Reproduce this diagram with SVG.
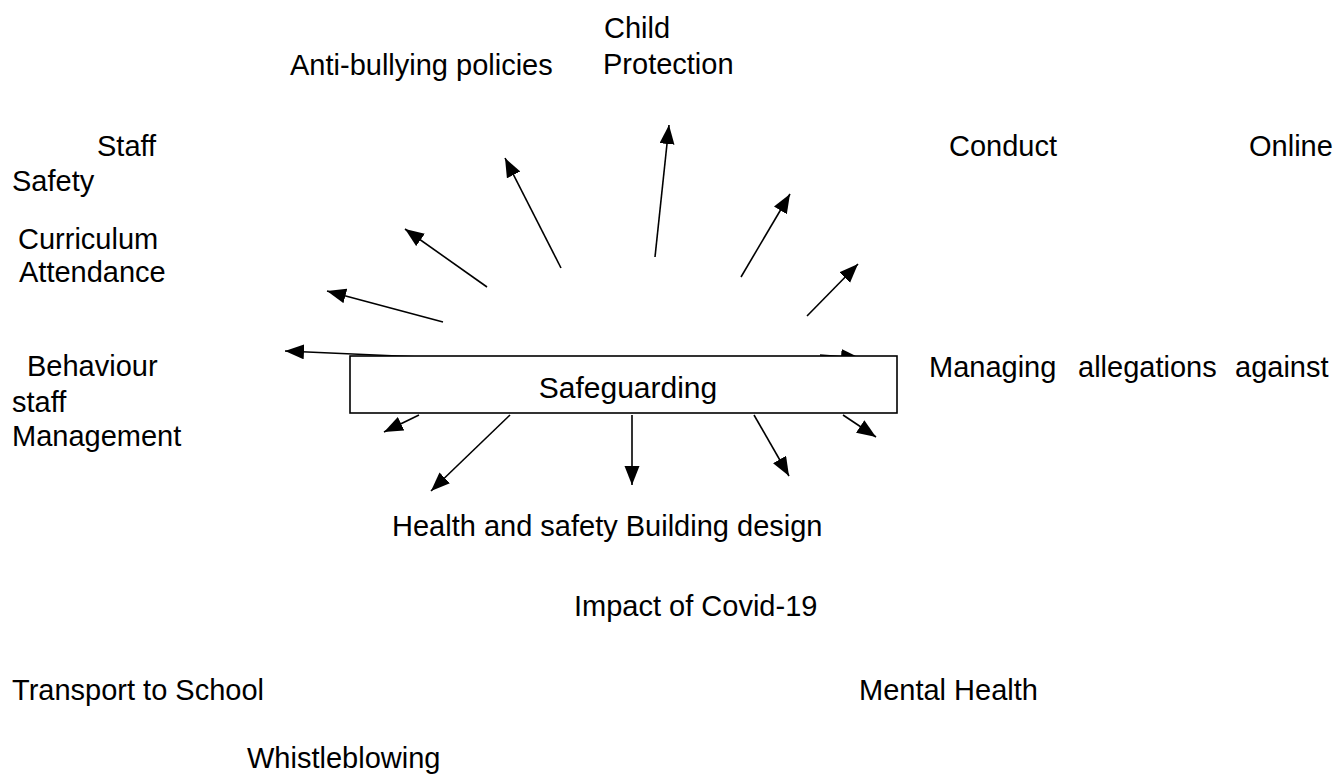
<svg xmlns="http://www.w3.org/2000/svg" width="1339" height="774" viewBox="0 0 1339 774">
<style>
text{font-family:"Liberation Sans",Arial,sans-serif;font-size:29px;fill:#000}
.c{stroke:#000;stroke-width:1.6;fill:none;marker-end:url(#ah)}
.box{fill:#fff;stroke:#000;stroke-width:1.6}
</style>
<defs>
<marker id="ah" markerUnits="userSpaceOnUse" markerWidth="20" markerHeight="16" refX="19" refY="7.5" orient="auto">
<path d="M0,0 L19,7.5 L0,15 z" fill="#000"/>
</marker>
</defs>
<rect width="1339" height="774" fill="#fff"/>
<g id="connectors">
<line class="c" x1="420" y1="357" x2="285" y2="351"/>
<line class="c" x1="443" y1="322" x2="327" y2="291"/>
<line class="c" x1="487" y1="287" x2="405" y2="229"/>
<line class="c" x1="561" y1="268" x2="505" y2="158"/>
<line class="c" x1="655" y1="257" x2="669" y2="125"/>
<line class="c" x1="741" y1="277" x2="790" y2="194"/>
<line class="c" x1="807" y1="316" x2="858" y2="264"/>
<line class="c" x1="820" y1="355" x2="860" y2="358"/>
<line class="c" x1="419" y1="415" x2="384" y2="432"/>
<line class="c" x1="510" y1="415" x2="431" y2="491"/>
<line class="c" x1="632" y1="415" x2="632" y2="485"/>
<line class="c" x1="754" y1="415" x2="789" y2="476"/>
<line class="c" x1="843" y1="415" x2="876" y2="437"/>
</g>
<g id="safeguarding">
<rect class="box" x="350" y="356" width="547" height="57"/>
<text x="628" y="398" text-anchor="middle" style="font-size:30px">Safeguarding</text>
</g>
<g id="anti-bullying"><text x="290" y="75">Anti-bullying policies</text></g>
<g id="child-protection"><text x="604" y="38">Child</text><text x="603" y="74">Protection</text></g>
<g id="staff-safety"><text x="97" y="156">Staff</text><text x="12" y="191">Safety</text></g>
<g id="conduct"><text x="949" y="156">Conduct</text></g>
<g id="online"><text x="1249" y="156">Online</text></g>
<g id="curriculum"><text x="18" y="249">Curriculum</text></g>
<g id="attendance"><text x="19" y="282">Attendance</text></g>
<g id="behaviour"><text x="27" y="376">Behaviour</text></g>
<g id="staff-management"><text x="12" y="412">staff</text><text x="12" y="446">Management</text></g>
<g id="managing-allegations"><text x="929" y="377">Managing</text><text x="1078" y="377">allegations</text><text x="1235" y="377">against</text></g>
<g id="health-safety"><text x="392" y="536">Health and safety Building design</text></g>
<g id="covid"><text x="574" y="616">Impact of Covid-19</text></g>
<g id="transport"><text x="12" y="700">Transport to School</text></g>
<g id="mental-health"><text x="859" y="700">Mental Health</text></g>
<g id="whistleblowing"><text x="247" y="768">Whistleblowing</text></g>
</svg>
